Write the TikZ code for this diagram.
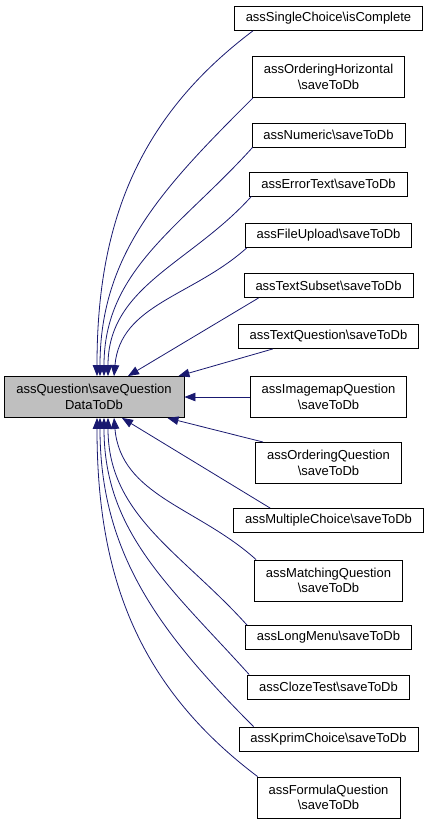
\documentclass[tikz,border=0pt]{standalone}
\usepackage{fontspec}
\setmainfont{Liberation Sans}
\usetikzlibrary{positioning, arrows.meta}
\definecolor{linkblue}{HTML}{191970}
\newcommand{\bsl}{\textbackslash}

\begin{document}
\begin{tikzpicture}[x=1pt, y=1pt,
  font=\fontsize{13}{15.5}\selectfont,
  box/.style={draw=black, line width=0.9pt, fill=white, inner xsep=11.5pt, inner ysep=0pt, minimum height=24pt, align=center},
  twoline/.style={box, minimum height=41pt},
  focus/.style={twoline, fill=gray!50, minimum width=180pt},
  call/.style={<-, draw=linkblue, line width=0.8pt},
  >={Triangle[length=11pt, width=8.5pt]}]
\useasboundingbox (0,0) rectangle (431,-825);

\node[focus] at (94,-397) (main) {assQuestion\bsl saveQuestion\\DataToDb};

\node[box] at (328.5,-18.5) (sc) {assSingleChoice\bsl isComplete};
\node[twoline] at (328.5,-77) (oh) {assOrderingHorizontal\\\bsl saveToDb};
\node[box] at (328.5,-135) (num) {assNumeric\bsl saveToDb};
\node[box] at (328.5,-184) (et) {assErrorText\bsl saveToDb};
\node[box] at (328.5,-235.5) (fu) {assFileUpload\bsl saveToDb};
\node[box] at (328.5,-285.5) (ts) {assTextSubset\bsl saveToDb};
\node[box] at (328.5,-336.5) (tq) {assTextQuestion\bsl saveToDb};
\node[twoline] at (328.5,-397) (im) {assImagemapQuestion\\\bsl saveToDb};
\node[twoline] at (328.5,-463) (oq) {assOrderingQuestion\\\bsl saveToDb};
\node[box] at (328.5,-520.5) (mc) {assMultipleChoice\bsl saveToDb};
\node[twoline] at (328.5,-580.5) (mq) {assMatchingQuestion\\\bsl saveToDb};
\node[box] at (328.5,-637.5) (lm) {assLongMenu\bsl saveToDb};
\node[box] at (328.5,-687) (ct) {assClozeTest\bsl saveToDb};
\node[box] at (328.5,-739) (kc) {assKprimChoice\bsl saveToDb};
\node[twoline] at (328.5,-797.5) (fq) {assFormulaQuestion\\\bsl saveToDb};

% callers above
\draw ([xshift=3pt]main.north) edge[call, out=90, in=217] ([xshift=19pt]sc.south west);
\draw ([xshift=6pt]main.north) edge[call, out=90, in=225] ([xshift=1pt]oh.south west);
\draw ([xshift=10pt]main.north) edge[call, out=90, in=228] ([xshift=1pt]num.south west);
\draw ([xshift=14pt]main.north) edge[call, out=90, in=228] ([xshift=2pt]et.south west);
\draw ([xshift=20pt]main.north) edge[call, out=85, in=222] ([xshift=2pt]fu.south west);
\draw ([xshift=34pt]main.north) edge[call] ([xshift=15pt]ts.south west);
\draw ([xshift=-6pt]main.north east) edge[call] ([xshift=35pt]tq.south west);
\draw (main) edge[call] (im);

% callers below
\draw ([xshift=-17pt]main.south east) edge[call] ([xshift=8pt]oq.north west);
\draw ([xshift=28pt]main.south) edge[call] ([xshift=37pt]mc.north west);
\draw ([xshift=20pt]main.south) edge[call, out=-85, in=138] ([xshift=2pt]mq.north west);
\draw ([xshift=14pt]main.south) edge[call, out=-90, in=132] ([xshift=2pt]lm.north west);
\draw ([xshift=10pt]main.south) edge[call, out=-90, in=132] ([xshift=2pt]ct.north west);
\draw ([xshift=6pt]main.south) edge[call, out=-90, in=135] ([xshift=15pt]kc.north west);
\draw ([xshift=3pt]main.south) edge[call, out=-90, in=143] ([xshift=1pt]fq.north west);
\end{tikzpicture}
\end{document}
